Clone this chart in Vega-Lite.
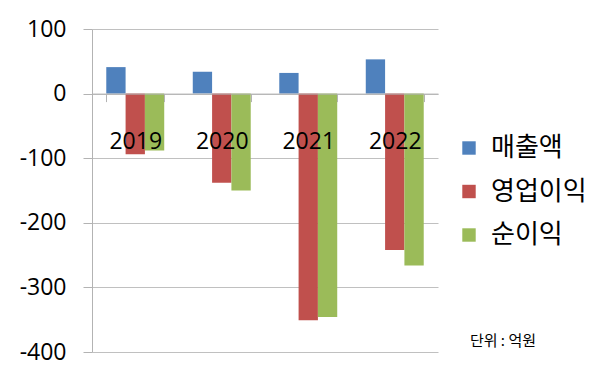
{
  "$schema": "https://vega.github.io/schema/vega-lite/v6.json",
  "width": 346,
  "height": 323,
  "autosize": "none",
  "padding": {"left": 92, "top": 29, "right": 162, "bottom": 29},
  "background": "white",
  "title": {
    "text": "단위 : 억원",
    "orient": "bottom",
    "anchor": "end",
    "frame": "group",
    "font": "Noto Sans CJK KR",
    "fontSize": 15,
    "fontWeight": "normal",
    "color": "#000000",
    "dx": 98,
    "offset": -30
  },
  "data": {
    "values": [
      {"year": "2019", "series": "매출액", "value": 41},
      {"year": "2019", "series": "영업이익", "value": -94},
      {"year": "2019", "series": "순이익", "value": -88},
      {"year": "2020", "series": "매출액", "value": 34},
      {"year": "2020", "series": "영업이익", "value": -138},
      {"year": "2020", "series": "순이익", "value": -150},
      {"year": "2021", "series": "매출액", "value": 32},
      {"year": "2021", "series": "영업이익", "value": -351},
      {"year": "2021", "series": "순이익", "value": -346},
      {"year": "2022", "series": "매출액", "value": 53},
      {"year": "2022", "series": "영업이익", "value": -242},
      {"year": "2022", "series": "순이익", "value": -266}
    ]
  },
  "mark": {"type": "bar"},
  "encoding": {
    "x": {
      "field": "year",
      "type": "nominal",
      "scale": {"paddingInner": 0.33, "paddingOuter": 0.165},
      "axis": {
        "title": null,
        "orient": "bottom",
        "offset": -258.4,
        "zindex": 1,
        "labelAngle": 0,
        "tickBand": "extent",
        "tickSize": 8,
        "tickColor": "#b3b3b3",
        "domainColor": "#b3b3b3",
        "labelFont": "Open Sans",
        "labelFontSize": 23,
        "labelColor": "#000000",
        "labelPadding": 29,
        "grid": false
      }
    },
    "xOffset": {"field": "series", "type": "nominal", "sort": ["매출액", "영업이익", "순이익"], "scale": {"paddingInner": 0, "paddingOuter": 0}},
    "y": {
      "field": "value",
      "type": "quantitative",
      "scale": {"domain": [-400, 100], "nice": false},
      "axis": {
        "title": null,
        "values": [-400, -300, -200, -100, 0, 100],
        "labelExpr": "replace(datum.label, '−', '-')",
        "tickSize": 9,
        "tickColor": "#b3b3b3",
        "domainColor": "#b3b3b3",
        "gridColor": "#c0c0c0",
        "labelFont": "Open Sans",
        "labelFontSize": 23,
        "labelColor": "#000000",
        "labelPadding": 17
      }
    },
    "color": {
      "field": "series",
      "type": "nominal",
      "sort": ["매출액", "영업이익", "순이익"],
      "scale": {"domain": ["매출액", "영업이익", "순이익"], "range": ["#4F81BD", "#C0504D", "#9BBB59"]},
      "legend": {
        "title": null,
        "orient": "none",
        "legendX": 364,
        "legendY": 106,
        "symbolType": "square",
        "symbolSize": 180,
        "symbolStrokeWidth": 0,
        "labelFont": "Noto Sans CJK KR",
        "labelFontSize": 26,
        "labelColor": "#000000",
        "labelOffset": 9,
        "rowPadding": 17.5
      }
    }
  },
  "config": {"view": {"stroke": null}, "axis": {"domainWidth": 1}}
}
